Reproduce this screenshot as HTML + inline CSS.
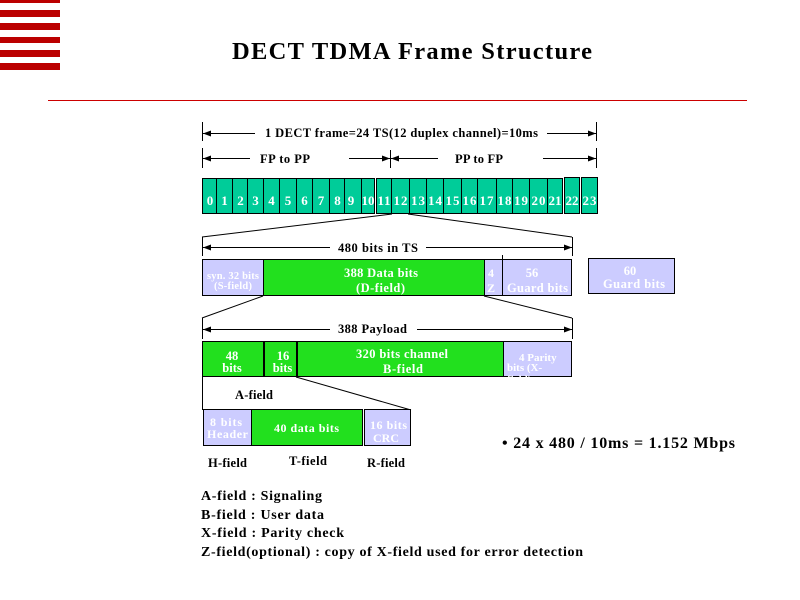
<!DOCTYPE html>
<html><head><meta charset="utf-8"><style>
html,body{margin:0;padding:0;background:#fff;}
svg{display:block;}
text{font-family:"Liberation Serif","Times New Roman",serif;}
</style></head><body>
<svg width="800" height="600" viewBox="0 0 800 600" xmlns="http://www.w3.org/2000/svg">
<!-- stripes -->
<g fill="#bb0000" shape-rendering="crispEdges">
<rect x="0" y="0" width="60" height="3"/>
<rect x="0" y="10" width="60" height="7"/>
<rect x="0" y="23" width="60" height="7"/>
<rect x="0" y="37" width="60" height="6"/>
<rect x="0" y="50" width="60" height="7"/>
<rect x="0" y="63" width="60" height="7"/>
</g>
<text x="232" y="59" font-size="24.5" font-weight="bold" textLength="360">DECT TDMA Frame Structure</text>
<rect x="48" y="100" width="699" height="1" fill="#cc0000" shape-rendering="crispEdges"/>

<g stroke="#000" stroke-width="1" shape-rendering="crispEdges" fill="none">
<line x1="202.5" y1="122" x2="202.5" y2="141"/>
<line x1="596.5" y1="122" x2="596.5" y2="141"/>
<line x1="203" y1="133.5" x2="255" y2="133.5"/>
<line x1="547" y1="133.5" x2="596" y2="133.5"/>
<line x1="202.5" y1="148" x2="202.5" y2="168"/>
<line x1="390.5" y1="150" x2="390.5" y2="168"/>
<line x1="596.5" y1="148" x2="596.5" y2="168"/>
<line x1="203" y1="158.5" x2="250" y2="158.5"/>
<line x1="349" y1="158.5" x2="390" y2="158.5"/>
<line x1="391" y1="158.5" x2="438" y2="158.5"/>
<line x1="543" y1="158.5" x2="596" y2="158.5"/>
<line x1="202.5" y1="237" x2="202.5" y2="256"/>
<line x1="572.5" y1="237" x2="572.5" y2="256"/>
<line x1="203" y1="247.5" x2="330" y2="247.5"/>
<line x1="426" y1="247.5" x2="572" y2="247.5"/>
<line x1="202.5" y1="318" x2="202.5" y2="339"/>
<line x1="572.5" y1="318" x2="572.5" y2="339"/>
<line x1="203" y1="329.5" x2="330" y2="329.5"/>
<line x1="417" y1="329.5" x2="572" y2="329.5"/>
<line x1="202.5" y1="377" x2="202.5" y2="410"/>
</g>
<g fill="#000">
<polygon points="203,133.5 211,130.5 211,136.5"/>
<polygon points="596,133.5 588,130.5 588,136.5"/>
<polygon points="203,158.5 211,155.5 211,161.5"/>
<polygon points="390,158.5 382,155.5 382,161.5"/>
<polygon points="391,158.5 399,155.5 399,161.5"/>
<polygon points="596,158.5 588,155.5 588,161.5"/>
<polygon points="203,247.5 211,244.5 211,250.5"/>
<polygon points="572,247.5 564,244.5 564,250.5"/>
<polygon points="203,329.5 211,326.5 211,332.5"/>
<polygon points="572,329.5 564,326.5 564,332.5"/>
</g>
<g font-size="12.5" font-weight="bold" fill="#000">
<text x="265" y="137" textLength="273">1 DECT frame=24 TS(12 duplex channel)=10ms</text>
<text x="260" y="163" textLength="50">FP to PP</text>
<text x="455" y="163" textLength="48">PP to FP</text>
<text x="338" y="252" textLength="80">480 bits in TS</text>
<text x="338" y="333" textLength="69">388 Payload</text>
<text x="235" y="399" textLength="38">A-field</text>
<text x="208" y="467" textLength="39">H-field</text>
<text x="289" y="465" textLength="38">T-field</text>
<text x="367" y="467" textLength="38">R-field</text>
</g>

<g fill="#00cc99" stroke="#000" stroke-width="1" shape-rendering="crispEdges">
<rect x="202.5" y="178.5" width="14" height="35"/>
<rect x="216.5" y="178.5" width="16" height="35"/>
<rect x="232.5" y="178.5" width="15" height="35"/>
<rect x="247.5" y="178.5" width="16" height="35"/>
<rect x="263.5" y="178.5" width="16" height="35"/>
<rect x="279.5" y="178.5" width="17" height="35"/>
<rect x="296.5" y="178.5" width="16" height="35"/>
<rect x="312.5" y="178.5" width="17" height="35"/>
<rect x="329.5" y="178.5" width="15" height="35"/>
<rect x="344.5" y="178.5" width="17" height="35"/>
<rect x="361.5" y="178.5" width="13" height="35"/>
<rect x="376.5" y="178.5" width="15" height="35"/>
<rect x="391.5" y="178.5" width="18" height="35"/>
<rect x="409.5" y="178.5" width="17" height="35"/>
<rect x="426.5" y="178.5" width="17" height="35"/>
<rect x="443.5" y="178.5" width="18" height="35"/>
<rect x="461.5" y="178.5" width="16" height="35"/>
<rect x="477.5" y="178.5" width="19" height="35"/>
<rect x="496.5" y="178.5" width="16" height="35"/>
<rect x="512.5" y="178.5" width="17" height="35"/>
<rect x="529.5" y="178.5" width="18" height="35"/>
<rect x="547.5" y="178.5" width="15" height="35"/>
<rect x="564.5" y="177.5" width="15" height="36"/>
<rect x="581.5" y="177.5" width="16" height="36"/>
</g>
<g font-size="13" font-weight="bold" fill="#fff" text-anchor="middle">
<text x="210" y="205">0</text>
<text x="224.5" y="205">1</text>
<text x="240.5" y="205">2</text>
<text x="255.5" y="205">3</text>
<text x="271.5" y="205">4</text>
<text x="288" y="205">5</text>
<text x="304.5" y="205">6</text>
<text x="321" y="205">7</text>
<text x="337.5" y="205">8</text>
<text x="351" y="205">9</text>
<text x="368" y="205" textLength="13">10</text>
<text x="384" y="205" textLength="13">11</text>
<text x="400.5" y="205" textLength="14">12</text>
<text x="418" y="205" textLength="14">13</text>
<text x="435" y="205" textLength="14">14</text>
<text x="452.5" y="205" textLength="14">15</text>
<text x="469.5" y="205" textLength="14">16</text>
<text x="486.5" y="205" textLength="14">17</text>
<text x="504.5" y="205" textLength="14">18</text>
<text x="521" y="205" textLength="14">19</text>
<text x="538.5" y="205" textLength="14">20</text>
<text x="555" y="205" textLength="13">21</text>
<text x="572" y="205" textLength="13">22</text>
<text x="589.5" y="205" textLength="14">23</text>
</g>

<g stroke="#000" stroke-width="1" fill="none">
<line x1="392" y1="214" x2="202" y2="237"/>
<line x1="408" y1="214" x2="572" y2="237"/>
<line x1="263" y1="296" x2="202" y2="318"/>
<line x1="484" y1="296" x2="572" y2="318"/>
<line x1="296" y1="377" x2="411" y2="410"/>
</g>

<g stroke="#000" stroke-width="1" shape-rendering="crispEdges">
<rect x="202.5" y="259.5" width="61" height="36" fill="#ccccff"/>
<rect x="263.5" y="259.5" width="221" height="36" fill="#22e01e"/>
<rect x="484.5" y="259.5" width="18" height="36" fill="#ccccff"/>
<rect x="502.5" y="259.5" width="69" height="36" fill="#ccccff"/>
<line x1="502.5" y1="255" x2="502.5" y2="260"/>
<rect x="588.5" y="258.5" width="86" height="35" fill="#ccccff"/>
</g>
<g font-weight="bold" fill="#fff" text-anchor="middle">
<text x="233" y="279" font-size="10.5" textLength="52">syn. 32 bits</text>
<text x="233" y="289" font-size="10.5" textLength="38">(S-field)</text>
<text x="381" y="277" font-size="12.5" textLength="74">388 Data bits</text>
<text x="380.5" y="292" font-size="12.5" textLength="49">(D-field)</text>
<text x="491" y="277" font-size="12">4</text>
<text x="491" y="292" font-size="12">Z</text>
<text x="532" y="277" font-size="12.5">56</text>
<text x="537.5" y="292" font-size="12.5" textLength="61">Guard bits</text>
<text x="630" y="275" font-size="12.5">60</text>
<text x="634" y="288" font-size="12.5" textLength="62">Guard bits</text>
</g>

<g stroke="#000" stroke-width="1" shape-rendering="crispEdges">
<rect x="202.5" y="341.5" width="301" height="35" fill="#22e01e"/>
<rect x="503.5" y="341.5" width="68" height="35" fill="#ccccff"/>
</g>
<g fill="#000" shape-rendering="crispEdges">
<rect x="263" y="341" width="2" height="36"/>
<rect x="296" y="341" width="2" height="36"/>
</g>
<svg x="503" y="341" width="68" height="36" overflow="hidden">
<g font-size="11" font-weight="bold" fill="#fff">
<text x="16" y="20">4 Parity</text>
<text x="4" y="30">bits (X-</text>
<text x="4" y="42">field)</text>
</g>
</svg>
<g font-size="12.5" font-weight="bold" fill="#fff" text-anchor="middle">
<text x="232" y="360">48</text>
<text x="232" y="372">bits</text>
<text x="283" y="360">16</text>
<text x="282.5" y="372">bits</text>
<text x="402" y="358" textLength="92">320 bits channel</text>
<text x="403" y="373" textLength="40">B-field</text>
</g>

<g stroke="#000" stroke-width="1" shape-rendering="crispEdges">
<rect x="203.5" y="409.5" width="48" height="36" fill="#ccccff"/>
<rect x="251.5" y="409.5" width="111" height="36" fill="#22e01e"/>
<rect x="364.5" y="409.5" width="46" height="36" fill="#ccccff"/>
</g>
<g font-size="12" font-weight="bold" fill="#fff" text-anchor="middle">
<text x="226" y="426" textLength="32">8 bits</text>
<text x="227.5" y="438" textLength="41">Header</text>
<text x="306.5" y="432" textLength="65">40 data bits</text>
<text x="388.5" y="429" textLength="37">16 bits</text>
<text x="386" y="442">CRC</text>
</g>

<text x="502" y="448" font-size="16" font-weight="bold" fill="#000" textLength="233">• 24 x 480 / 10ms = 1.152 Mbps</text>

<g font-size="14" font-weight="bold" fill="#000">
<text x="201" y="500" textLength="121">A-field : Signaling</text>
<text x="201" y="519" textLength="123">B-field : User data</text>
<text x="201" y="537" textLength="143">X-field : Parity check</text>
<text x="201" y="556" textLength="382">Z-field(optional) : copy of X-field used for error detection</text>
</g>
</svg>
</body></html>
